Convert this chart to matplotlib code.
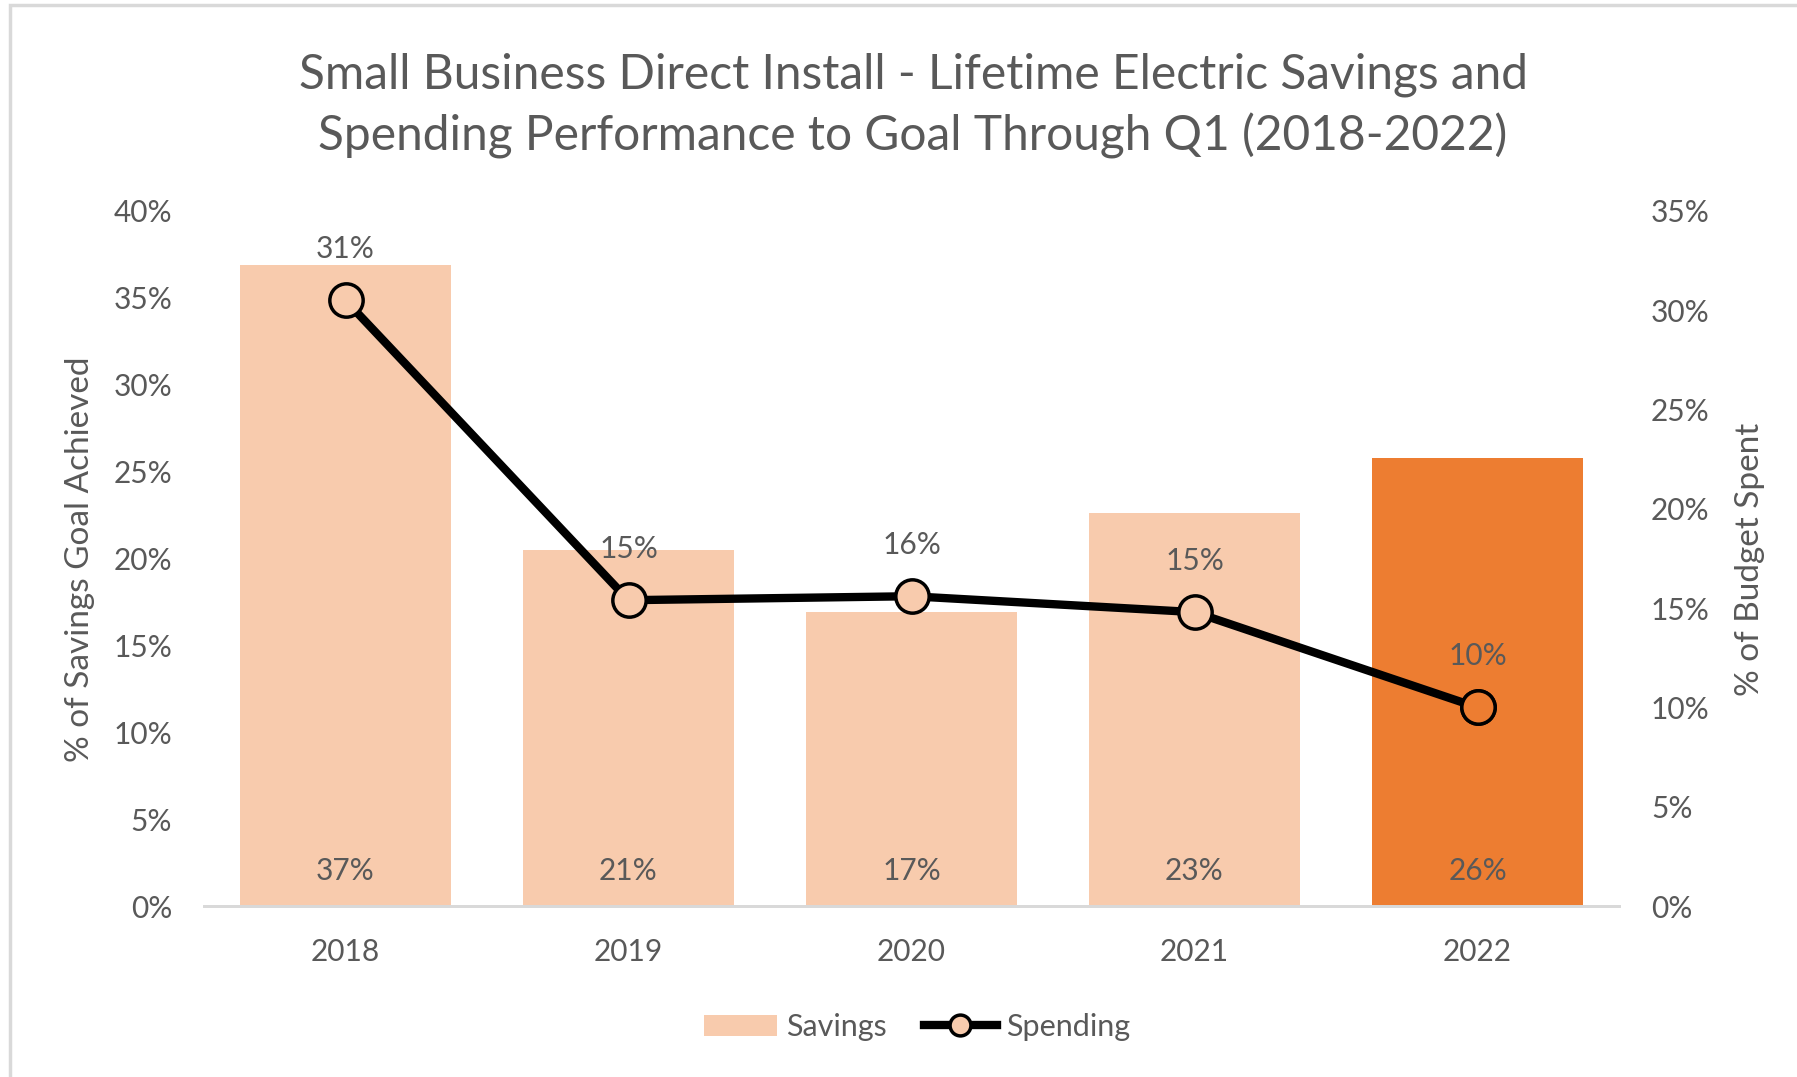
import matplotlib.pyplot as plt
from matplotlib.patches import Rectangle
from matplotlib.lines import Line2D
from matplotlib.patches import Patch

# Data
years = ["2018", "2019", "2020", "2021", "2022"]
savings = [0.369, 0.205, 0.169, 0.226, 0.258]
savings_labels = ["37%", "21%", "17%", "23%", "26%"]
spending = [0.305, 0.154, 0.156, 0.148, 0.100]
spending_labels = ["31%", "15%", "16%", "15%", "10%"]
left_ticks = [0, 0.05, 0.10, 0.15, 0.20, 0.25, 0.30, 0.35, 0.40]
right_ticks = [0, 0.05, 0.10, 0.15, 0.20, 0.25, 0.30, 0.35]

PEACH = "#F8CBAD"
ORANGE = "#ED7D31"
TEXT = "#595959"
GRID = "#D9D9D9"

plt.rcParams["font.family"] = ["Lato", "DejaVu Sans"]

fig = plt.figure(figsize=(17.97, 10.77), dpi=100)
# light frame around the chart
fig.patches.append(Rectangle((10 / 1797, -0.01), 1.1, 1 - 5 / 1077 + 0.01,
                             transform=fig.transFigure, fill=False,
                             edgecolor=GRID, linewidth=2.5))

ax = fig.add_axes([204 / 1797, 1 - 906 / 1077, (1619 - 204) / 1797, (906 - 211) / 1077])
ax2 = ax.twinx()

x = list(range(len(years)))
colors = [PEACH] * (len(years) - 1) + [ORANGE]
ax.bar(x, savings, width=0.745, color=colors, zorder=2)
ax.set_xlim(-0.5, len(years) - 0.5)
ax.set_ylim(0, 0.40)
ax.set_yticks(left_ticks)
ax.set_yticklabels([f"{int(round(t * 100))}%" for t in left_ticks])
ax.set_xticks(x)
ax.set_xticklabels(years)

for xi, lab in zip(x, savings_labels):
    ax.annotate(lab, (xi, 0), xytext=(0, 15), textcoords="offset points",
                ha="center", va="bottom", fontsize=21.5, color=TEXT)

ax2.plot(x, spending, color="black", linewidth=6, zorder=3,
         marker="o", markersize=24, markerfacecolor=PEACH,
         markeredgecolor="black", markeredgewidth=2.5)
ax2.plot(x[-1:], spending[-1:], linestyle="none", marker="o", markersize=24,
         markerfacecolor=ORANGE, markeredgecolor="black", markeredgewidth=2.5, zorder=4)
ax2.set_ylim(0, 0.35)
ax2.set_yticks(right_ticks)
ax2.set_yticklabels([f"{int(round(t * 100))}%" for t in right_ticks])

for xi, yv, lab in zip(x, spending, spending_labels):
    ax2.annotate(lab, (xi, yv), xytext=(0, 27), textcoords="offset points",
                 ha="center", va="bottom", fontsize=21.5, color=TEXT)

for a in (ax, ax2):
    for s in ("top", "left", "right"):
        a.spines[s].set_visible(False)
    a.spines["bottom"].set_color(GRID)
    a.spines["bottom"].set_linewidth(2)
    a.tick_params(axis="both", length=0, labelsize=21.5, labelcolor=TEXT)
ax.tick_params(axis="x", pad=23)
ax.tick_params(axis="y", pad=23)
ax2.tick_params(axis="y", pad=23)
ax.set_zorder(ax2.get_zorder() - 1)
ax.patch.set_visible(False)
ax2.patch.set_visible(False)

fig.text(80 / 1797, 1 - 559 / 1077, "% of Savings Goal Achieved", rotation=90,
         ha="center", va="center", fontsize=24, color=TEXT)
fig.text(1750 / 1797, 1 - 559 / 1077, "% of Budget Spent", rotation=90,
         ha="center", va="center", fontsize=24, color=TEXT)

fig.text(913 / 1797, 1 - 106 / 1077,
         "Small Business Direct Install - Lifetime Electric Savings and\n"
         "Spending Performance to Goal Through Q1 (2018-2022)",
         ha="center", va="center", fontsize=34.5, color=TEXT, linespacing=1.42)

handles = [Patch(facecolor=PEACH, edgecolor="none", label="Savings"),
           Line2D([0], [0], color="black", linewidth=6, marker="o", markersize=15,
                  markerfacecolor=PEACH, markeredgecolor="black",
                  markeredgewidth=2.5, label="Spending")]
fig.legend(handles=handles, loc="center", bbox_to_anchor=(917 / 1797, 1 - 1027 / 1077),
           ncol=2, frameon=False, fontsize=22, labelcolor=TEXT,
           handlelength=2.4, handletextpad=0.3, columnspacing=1.2)

fig.savefig("out.png", dpi=100)
